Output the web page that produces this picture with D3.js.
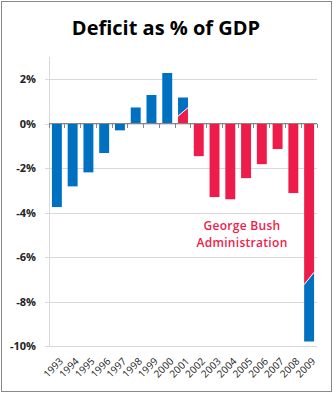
<!DOCTYPE html>
<html>
<head>
<meta charset="utf-8">
<style>
  body { margin: 0; background: #fff; }
  svg text { font-family: "Open Sans", sans-serif; }
</style>
</head>
<body>
<script src="https://cdn.jsdelivr.net/npm/d3@7"></script>
<script>
  var years = ["1993", "1994", "1995", "1996", "1997", "1998", "1999", "2000", "2001",
               "2002", "2003", "2004", "2005", "2006", "2007", "2008", "2009"];
  var deficit = [-3.75, -2.82, -2.19, -1.32, -0.30, 0.73, 1.29, 2.28, 1.18,
                 -1.46, -3.30, -3.40, -2.45, -1.82, -1.14, -3.12, -9.80];
  // who owns the year: C = Clinton, B = Bush, S = split between two administrations
  var owner = ["C", "C", "C", "C", "C", "C", "C", "C", "S",
               "B", "B", "B", "B", "B", "B", "B", "S"];
  // diagonal boundary for split years (value at left and right edge of bar)
  var splitYears = ["2001", "2009"];
  var splitLeft = [0.34, -7.24];
  var splitRight = [0.72, -6.68];
  var yTicks = [2, 0, -2, -4, -6, -8, -10];

  var blue = "#0070C0", red = "#EE1C4B";
  var width = 333, height = 393;
  var plot = { left: 49, right: 317, top: 57, bottom: 346 };

  var svg = d3.select("body").append("svg")
    .attr("width", width)
    .attr("height", height);

  svg.append("rect")
    .attr("x", 1.5).attr("y", 1.5)
    .attr("width", 330).attr("height", 390)
    .attr("fill", "#fff").attr("stroke", "#888").attr("stroke-width", 1);

  svg.append("text")
    .attr("x", 166).attr("y", 35)
    .attr("text-anchor", "middle")
    .attr("font-size", 20).attr("font-weight", "bold")
    .attr("fill", "#000")
    .text("Deficit as % of GDP");

  var x = d3.scaleBand()
    .domain(years)
    .range([plot.left, plot.right])
    .paddingInner(0.37)
    .paddingOuter(0.185);

  var y = d3.scaleLinear()
    .domain([-10, 3])
    .range([plot.bottom, plot.top]);

  // gridlines
  var grid = svg.append("g")
    .attr("transform", "translate(" + plot.left + ",0)")
    .call(d3.axisLeft(y).tickValues(yTicks).tickSize(-(plot.right - plot.left)).tickFormat(""));
  grid.select(".domain").remove();
  grid.selectAll(".tick line").attr("stroke", "#D9D9D9").attr("shape-rendering", "crispEdges");

  // y axis with labels
  var yAxis = svg.append("g")
    .attr("transform", "translate(" + plot.left + ",0)")
    .call(d3.axisLeft(y).tickValues(yTicks).tickSize(4).tickPadding(9)
      .tickFormat(function (d) { return d + "%"; }));
  yAxis.select(".domain").attr("stroke", "#D9D9D9").attr("shape-rendering", "crispEdges")
    .attr("d", "M0," + plot.top + "V" + plot.bottom);
  yAxis.selectAll(".tick line").attr("stroke", "#D9D9D9").attr("shape-rendering", "crispEdges");
  yAxis.selectAll(".tick text")
    .attr("font-size", 11).attr("font-weight", "bold").attr("fill", "#222")
    .attr("font-family", "Open Sans, sans-serif");

  // bars
  var bars = svg.append("g");
  years.forEach(function (yr, i) {
    var v = deficit[i];
    var x0 = x(yr), x1 = x(yr) + x.bandwidth();
    if (owner[i] !== "S") {
      bars.append("rect")
        .attr("x", x0)
        .attr("y", y(Math.max(0, v)))
        .attr("width", x.bandwidth())
        .attr("height", Math.abs(y(v) - y(0)))
        .attr("fill", owner[i] === "C" ? blue : red);
    } else {
      var k = splitYears.indexOf(yr);
      var l = splitLeft[k], r = splitRight[k];
      bars.append("path")
        .attr("d", "M" + x0 + "," + y(0) + "L" + x0 + "," + y(l) + "L" + x1 + "," + y(r) + "L" + x1 + "," + y(0) + "Z")
        .attr("fill", red);
      bars.append("path")
        .attr("d", "M" + x0 + "," + y(l) + "L" + x0 + "," + y(v) + "L" + x1 + "," + y(v) + "L" + x1 + "," + y(r) + "Z")
        .attr("fill", blue);
      bars.append("line")
        .attr("x1", x0).attr("y1", y(l)).attr("x2", x1).attr("y2", y(r))
        .attr("stroke", "#fff").attr("stroke-width", 1);
    }
  });

  // zero axis with tick marks between categories
  var zero = svg.append("g").attr("transform", "translate(0," + y(0) + ")");
  zero.append("line")
    .attr("x1", plot.left).attr("x2", plot.right)
    .attr("stroke", "#868686").attr("shape-rendering", "crispEdges");
  var step = x.step();
  var bounds = d3.range(years.length + 1).map(function (j) { return plot.left + j * step; });
  zero.selectAll(".xt").data(bounds).enter().append("line")
    .attr("x1", function (d) { return d; }).attr("x2", function (d) { return d; })
    .attr("y1", 0).attr("y2", 4)
    .attr("stroke", "#868686").attr("shape-rendering", "crispEdges");

  // rotated year labels
  svg.append("g").selectAll("text")
    .data(years).enter().append("text")
    .attr("transform", function (d) {
      return "translate(" + (x(d) + x.bandwidth() / 2 + 7) + "," + 362 + ") rotate(-45)";
    })
    .attr("text-anchor", "end")
    .attr("font-size", 10).attr("fill", "#222")
    .text(function (d) { return d; });

  // annotation
  svg.append("text")
    .attr("x", 242).attr("y", 230)
    .attr("text-anchor", "middle")
    .attr("font-size", 12).attr("fill", red).attr("font-weight", 600)
    .attr("letter-spacing", 0.3)
    .text("George Bush");
  svg.append("text")
    .attr("x", 242).attr("y", 246.5)
    .attr("text-anchor", "middle")
    .attr("font-size", 12).attr("fill", red).attr("font-weight", 600)
    .attr("letter-spacing", 0.3)
    .text("Administration");
</script>
</body>
</html>
